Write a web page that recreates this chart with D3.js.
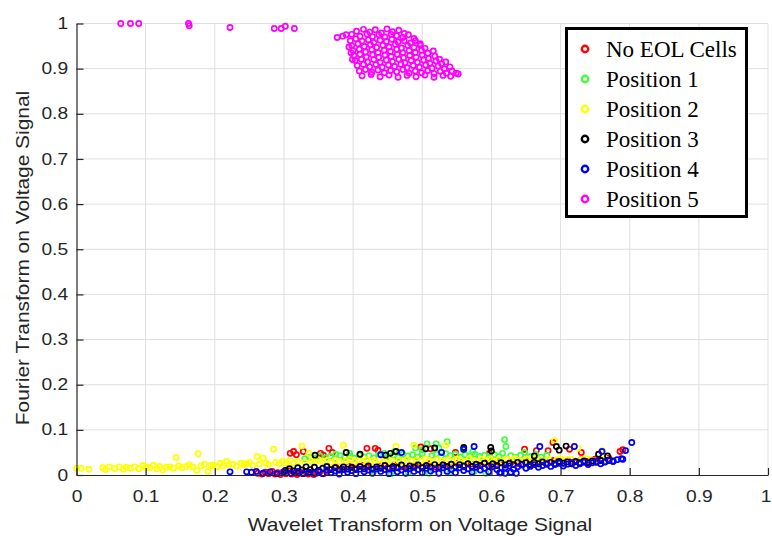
<!DOCTYPE html>
<html>
<head>
<meta charset="utf-8">
<script src="https://cdn.jsdelivr.net/npm/d3@7"></script>
<style>
  body { margin: 0; background: #fff; }
  svg { display: block; }
</style>
</head>
<body>
<div id="chart"></div>
<script>
const seriesNames = ['No EOL Cells', 'Position 1', 'Position 2', 'Position 3', 'Position 4', 'Position 5'];
const seriesColors = ['#ff0000', '#40ff40', '#ffff00', '#000000', '#0000ff', '#ff00ff'];
const xTicks = [0, 0.1, 0.2, 0.3, 0.4, 0.5, 0.6, 0.7, 0.8, 0.9, 1];
const yTicks = [0, 0.1, 0.2, 0.3, 0.4, 0.5, 0.6, 0.7, 0.8, 0.9, 1];

const noEolCells = [
  [0.262,0.004],[0.268,0.002],[0.273,0.006],[0.278,0.003],[0.283,0.008],[0.287,0.002],[0.291,0.005],[0.295,0.001],
  [0.299,0.007],[0.303,0.003],[0.307,0.009],[0.311,0.002],[0.315,0.005],[0.319,0.001],[0.323,0.006],[0.327,0.003],
  [0.331,0.008],[0.335,0.002],[0.339,0.005],[0.343,0.001],[0.347,0.004],[0.352,0.007],[0.357,0.003],[0.362,0.006],
  [0.366,0.012],[0.375,0.018],[0.384,0.014],[0.393,0.02],[0.402,0.015],[0.411,0.022],[0.42,0.017],[0.43,0.013],
  [0.44,0.021],[0.45,0.016],[0.46,0.023],[0.47,0.018],[0.48,0.014],[0.49,0.022],[0.5,0.019],[0.51,0.025],
  [0.52,0.017],[0.53,0.023],[0.54,0.02],[0.55,0.026],[0.56,0.018],[0.57,0.024],[0.58,0.021],[0.59,0.027],
  [0.6,0.022],[0.61,0.028],[0.62,0.024],[0.63,0.03],[0.64,0.025],[0.65,0.029],[0.66,0.026],[0.67,0.031],
  [0.68,0.027],[0.69,0.032],[0.7,0.028],[0.71,0.033],[0.72,0.029],[0.73,0.034],[0.74,0.03],[0.75,0.035],
  [0.76,0.032],[0.77,0.037],
  [0.309,0.048],[0.314,0.052],[0.318,0.045],[0.328,0.052],[0.353,0.048],[0.357,0.044],[0.365,0.059],[0.37,0.05],
  [0.42,0.059],[0.432,0.059],[0.436,0.055],[0.498,0.062],[0.512,0.058],[0.548,0.05],[0.597,0.048],[0.648,0.057],
  [0.665,0.054],[0.682,0.054],[0.689,0.072],[0.713,0.057],[0.73,0.05],[0.786,0.052],[0.79,0.056]
];

const position1 = [
  [0.33,0.036],[0.338,0.04],[0.345,0.037],[0.352,0.042],[0.36,0.038],[0.367,0.041],[0.374,0.036],[0.381,0.043],
  [0.388,0.039],[0.395,0.042],[0.402,0.037],[0.409,0.044],[0.416,0.04],[0.423,0.043],[0.43,0.038],[0.437,0.045],
  [0.445,0.048],[0.451,0.041],[0.458,0.044],[0.465,0.039],[0.472,0.046],[0.479,0.042],[0.486,0.045],[0.493,0.04],
  [0.5,0.047],[0.507,0.069],[0.514,0.043],[0.52,0.046],[0.527,0.041],[0.534,0.047],[0.536,0.074],[0.541,0.043],
  [0.548,0.046],[0.555,0.04],[0.562,0.045],[0.569,0.042],[0.576,0.046],[0.583,0.041],[0.59,0.044],[0.597,0.04],
  [0.604,0.045],[0.611,0.041],[0.616,0.048],[0.619,0.078],[0.621,0.063],[0.628,0.043],[0.635,0.039],[0.642,0.044],
  [0.648,0.05],[0.656,0.041],[0.664,0.045],[0.672,0.04],[0.68,0.044],
  [0.375,0.046],[0.395,0.048],[0.46,0.052],[0.49,0.06],[0.5,0.056],[0.52,0.069],[0.524,0.06],[0.56,0.055],
  [0.573,0.052],[0.592,0.004],[0.575,0.008],[0.54,0.006],[0.48,0.005],[0.43,0.008],[0.455,0.003],[0.51,0.004]
];

const position2 = [
  [0.0,0.015],[0.007,0.015],[0.018,0.013],[0.038,0.016],[0.042,0.012],[0.048,0.018],[0.055,0.014],[0.062,0.018],
  [0.068,0.013],[0.072,0.017],[0.078,0.015],[0.084,0.018],[0.09,0.014],[0.096,0.021],[0.1,0.017],[0.106,0.016],
  [0.111,0.021],[0.116,0.014],[0.12,0.019],[0.125,0.011],[0.13,0.017],[0.135,0.018],[0.14,0.015],[0.144,0.039],
  [0.148,0.02],[0.152,0.016],[0.159,0.019],[0.163,0.022],[0.168,0.018],[0.174,0.01],[0.176,0.047],[0.18,0.02],
  [0.185,0.024],[0.19,0.008],[0.194,0.021],[0.198,0.022],[0.203,0.018],[0.208,0.026],[0.212,0.02],[0.217,0.03],
  [0.22,0.022],[0.226,0.024],[0.232,0.02],[0.238,0.026],[0.242,0.022],[0.246,0.025],[0.25,0.028],[0.255,0.021],
  [0.261,0.041],[0.264,0.024],[0.27,0.037],[0.274,0.027],[0.278,0.023],[0.285,0.057],[0.288,0.028],[0.293,0.025],
  [0.298,0.03],[0.303,0.026],[0.308,0.031],[0.314,0.027],[0.32,0.03],[0.326,0.064],[0.33,0.028],[0.336,0.048],
  [0.34,0.031],[0.345,0.029],[0.35,0.033],[0.356,0.03],[0.362,0.032],[0.368,0.028],[0.374,0.033],[0.38,0.03],
  [0.386,0.066],[0.39,0.031],[0.396,0.034],[0.402,0.029],[0.408,0.032],[0.414,0.03],[0.42,0.034],[0.426,0.031],
  [0.432,0.029],[0.438,0.033],[0.444,0.03],[0.45,0.034],[0.456,0.031],[0.462,0.063],[0.466,0.032],[0.472,0.029],
  [0.478,0.034],[0.484,0.031],[0.488,0.066],[0.492,0.033],[0.498,0.03],[0.504,0.035],[0.51,0.032],[0.516,0.029],
  [0.522,0.034],[0.528,0.031],[0.534,0.066],[0.538,0.034],[0.544,0.03],[0.55,0.035],[0.556,0.032],[0.562,0.03],
  [0.568,0.036],[0.574,0.033],[0.58,0.03],[0.586,0.035],[0.592,0.032],[0.598,0.036],[0.604,0.031],[0.61,0.034],
  [0.616,0.03],[0.622,0.035],[0.628,0.032],[0.634,0.036],[0.64,0.033],[0.646,0.031],[0.652,0.035],[0.658,0.032],
  [0.664,0.036],[0.67,0.033],[0.676,0.03],[0.682,0.035],[0.691,0.076],[0.695,0.034],[0.7,0.036],[0.708,0.033],
  [0.715,0.035],[0.725,0.059],[0.73,0.034],[0.738,0.036],[0.745,0.033],[0.76,0.054],[0.765,0.035]
];

const position3 = [
  [0.302,0.01],[0.308,0.014],[0.314,0.009],[0.32,0.016],[0.326,0.011],[0.332,0.018],[0.338,0.012],[0.344,0.017],
  [0.35,0.01],[0.356,0.015],[0.362,0.019],[0.368,0.012],[0.374,0.016],[0.38,0.011],[0.386,0.018],[0.392,0.013],
  [0.398,0.017],[0.404,0.012],[0.41,0.019],[0.416,0.014],[0.422,0.02],[0.428,0.013],[0.434,0.018],[0.44,0.015],
  [0.446,0.021],[0.452,0.014],[0.458,0.019],[0.464,0.016],[0.47,0.022],[0.476,0.015],[0.482,0.02],[0.488,0.017],
  [0.494,0.022],[0.5,0.016],[0.506,0.021],[0.512,0.018],[0.518,0.023],[0.524,0.017],[0.53,0.022],[0.536,0.019],
  [0.542,0.024],[0.548,0.018],[0.554,0.023],[0.56,0.02],[0.566,0.025],[0.572,0.019],[0.578,0.024],[0.584,0.021],
  [0.59,0.026],[0.596,0.02],[0.602,0.025],[0.608,0.021],[0.614,0.027],[0.62,0.022],[0.626,0.026],[0.632,0.023],
  [0.638,0.028],[0.644,0.024],[0.65,0.027],[0.656,0.023],[0.662,0.028],[0.668,0.025],[0.674,0.029],[0.68,0.024],
  [0.686,0.028],[0.692,0.025],[0.698,0.03],[0.704,0.026],[0.71,0.029],[0.716,0.025],[0.722,0.03],[0.728,0.027],
  [0.734,0.031],[0.74,0.027],[0.746,0.031],[0.752,0.028],[0.758,0.032],[0.764,0.029],[0.77,0.033],[0.776,0.031],
  [0.345,0.044],[0.39,0.05],[0.41,0.046],[0.447,0.044],[0.454,0.048],[0.462,0.052],[0.505,0.058],[0.518,0.06],
  [0.56,0.061],[0.599,0.061],[0.6,0.053],[0.662,0.042],[0.694,0.063],[0.698,0.055],[0.708,0.064],[0.755,0.046],
  [0.768,0.042]
];

const position4 = [
  [0.222,0.007],[0.246,0.007],[0.253,0.006],[0.26,0.008],[0.27,0.004],[0.28,0.007],[0.29,0.003],[0.3,0.006],
  [0.31,0.004],[0.32,0.008],[0.328,0.003],[0.336,0.006],[0.344,0.004],[0.35,0.008],[0.356,0.003],[0.362,0.011],
  [0.368,0.005],[0.374,0.009],[0.38,0.002],[0.386,0.012],[0.392,0.006],[0.398,0.01],[0.404,0.003],[0.41,0.013],
  [0.416,0.007],[0.422,0.011],[0.428,0.004],[0.434,0.014],[0.44,0.008],[0.446,0.012],[0.452,0.003],[0.458,0.015],
  [0.464,0.007],[0.47,0.011],[0.476,0.004],[0.482,0.014],[0.488,0.008],[0.494,0.012],[0.5,0.005],[0.506,0.015],
  [0.512,0.009],[0.518,0.013],[0.524,0.004],[0.53,0.016],[0.536,0.008],[0.542,0.012],[0.548,0.005],[0.554,0.016],
  [0.56,0.01],[0.566,0.014],[0.572,0.006],[0.578,0.017],[0.584,0.011],[0.59,0.015],[0.596,0.007],[0.602,0.018],
  [0.608,0.012],[0.614,0.005],[0.62,0.016],[0.626,0.02],[0.632,0.013],[0.638,0.018],[0.644,0.022],[0.65,0.015],
  [0.656,0.019],[0.662,0.023],[0.668,0.017],[0.674,0.021],[0.68,0.025],[0.686,0.019],[0.692,0.023],[0.698,0.026],
  [0.704,0.02],[0.71,0.024],[0.716,0.027],[0.722,0.021],[0.728,0.025],[0.734,0.028],[0.74,0.023],[0.746,0.027],
  [0.752,0.03],[0.758,0.025],[0.764,0.029],[0.77,0.032],[0.776,0.03],[0.782,0.034],[0.788,0.036],[0.79,0.035],
  [0.803,0.072],[0.794,0.054],[0.67,0.063],[0.72,0.063],[0.575,0.063],[0.56,0.057],[0.528,0.05],[0.612,0.005],
  [0.62,0.004],[0.628,0.006],[0.636,0.004],[0.47,0.05],[0.44,0.045],[0.76,0.052]
];

const position5 = [
  [0.064,1.0],[0.078,1.0],[0.09,1.0],[0.162,1.0],[0.163,0.995],[0.222,0.991],[0.286,0.989],[0.296,0.989],
  [0.302,0.994],[0.315,0.989],
  [0.377,0.969],[0.385,0.972],[0.39,0.975],[0.394,0.948],[0.397,0.935],[0.399,0.92],
  [0.405,0.983],[0.415,0.987],[0.424,0.981],[0.432,0.986],[0.441,0.979],[0.449,0.988],[0.457,0.982],[0.466,0.985],
  [0.474,0.978],
  [0.398,0.976],[0.41,0.972],[0.42,0.977],[0.428,0.971],[0.437,0.975],[0.446,0.97],[0.455,0.976],[0.463,0.973],
  [0.472,0.969],[0.48,0.975],[0.488,0.967],
  [0.396,0.962],[0.404,0.966],[0.413,0.961],[0.422,0.964],[0.43,0.958],[0.439,0.963],[0.448,0.96],[0.456,0.965],
  [0.465,0.959],[0.474,0.962],[0.483,0.957],[0.49,0.962],[0.497,0.955],
  [0.398,0.951],[0.407,0.955],[0.416,0.949],[0.425,0.953],[0.434,0.947],[0.443,0.952],[0.452,0.948],[0.461,0.954],
  [0.47,0.946],[0.479,0.951],[0.488,0.947],[0.497,0.952],[0.504,0.945],
  [0.4,0.94],[0.409,0.943],[0.418,0.937],[0.427,0.942],[0.436,0.936],[0.445,0.941],[0.454,0.938],[0.463,0.943],
  [0.472,0.935],[0.481,0.94],[0.49,0.936],[0.499,0.941],[0.508,0.934],[0.516,0.939],
  [0.401,0.929],[0.41,0.932],[0.419,0.926],[0.428,0.931],[0.437,0.925],[0.446,0.93],[0.455,0.927],[0.464,0.932],
  [0.473,0.924],[0.482,0.929],[0.491,0.925],[0.5,0.93],[0.509,0.923],[0.518,0.928],[0.525,0.921],
  [0.403,0.918],[0.412,0.921],[0.421,0.915],[0.43,0.92],[0.439,0.914],[0.448,0.919],[0.457,0.916],[0.466,0.921],
  [0.475,0.913],[0.484,0.918],[0.493,0.914],[0.502,0.919],[0.511,0.912],[0.52,0.917],[0.528,0.911],[0.534,0.915],
  [0.406,0.907],[0.415,0.91],[0.424,0.904],[0.433,0.909],[0.442,0.903],[0.451,0.908],[0.46,0.905],[0.469,0.91],
  [0.478,0.902],[0.487,0.907],[0.496,0.903],[0.505,0.908],[0.514,0.901],[0.523,0.906],[0.532,0.9],[0.54,0.904],
  [0.409,0.895],[0.418,0.898],[0.427,0.892],[0.436,0.897],[0.445,0.891],[0.454,0.896],[0.463,0.893],[0.472,0.898],
  [0.481,0.89],[0.49,0.895],[0.499,0.891],[0.508,0.896],[0.517,0.889],[0.526,0.894],[0.535,0.89],[0.543,0.895],
  [0.549,0.89],
  [0.413,0.884],[0.426,0.887],[0.439,0.882],[0.452,0.886],[0.465,0.881],[0.478,0.885],[0.491,0.882],[0.504,0.886],
  [0.517,0.881],[0.53,0.885],[0.541,0.883],[0.552,0.888]
];

const allSeries = [noEolCells, position1, position2, position3, position4, position5];

const width = 772, height = 536;
const plot = { left: 76.5, right: 768, top: 23.5, bottom: 475 };

const svg = d3.select('#chart').append('svg')
  .attr('width', width)
  .attr('height', height)
  .style('font-family', 'Arial, "Liberation Sans", sans-serif');

svg.append('rect').attr('width', width).attr('height', height).attr('fill', '#fff');

const x = d3.scaleLinear().domain([0, 1]).range([plot.left, plot.right]);
const y = d3.scaleLinear().domain([0, 1]).range([plot.bottom, plot.top]);

// grid
svg.append('g').selectAll('line').data(xTicks.slice(1)).enter().append('line')
  .attr('x1', d => x(d)).attr('x2', d => x(d))
  .attr('y1', plot.top).attr('y2', plot.bottom)
  .attr('stroke', '#dfdfdf').attr('stroke-width', 1);
svg.append('g').selectAll('line').data(yTicks.slice(1)).enter().append('line')
  .attr('x1', plot.left).attr('x2', plot.right)
  .attr('y1', d => y(d)).attr('y2', d => y(d))
  .attr('stroke', '#dfdfdf').attr('stroke-width', 1);

// points
allSeries.forEach((data, i) => {
  svg.append('g').selectAll('circle')
    .data(data)
    .enter().append('circle')
    .attr('cx', d => x(d[0]))
    .attr('cy', d => y(d[1]))
    .attr('r', 2.6)
    .attr('fill', 'none')
    .attr('stroke', seriesColors[i])
    .attr('stroke-width', 1.7);
});

// axes
const xAxis = svg.append('g')
  .attr('transform', `translate(0,${plot.bottom})`)
  .call(d3.axisBottom(x).tickValues(xTicks).tickFormat(d3.format('~g'))
    .tickSizeInner(-7).tickSizeOuter(0).tickPadding(16));
const yAxis = svg.append('g')
  .attr('transform', `translate(${plot.left},0)`)
  .call(d3.axisLeft(y).tickValues(yTicks).tickFormat(d3.format('~g'))
    .tickSizeInner(-7).tickSizeOuter(0).tickPadding(7));

[xAxis, yAxis].forEach(ax => {
  ax.select('.domain').attr('stroke', '#262626').attr('stroke-width', 1.2);
  ax.selectAll('.tick line').attr('stroke', '#262626').attr('stroke-width', 1.2);
  ax.selectAll('.tick text')
    .attr('fill', '#262626')
    .style('font-size', '16px')
    .attr('transform', 'scale(1.2,1)');
});
xAxis.selectAll('.tick text').filter(d => d === 1).attr('dx', -2);

svg.append('text')
  .attr('transform', 'translate(420,531) scale(1.2,1)')
  .attr('text-anchor', 'middle')
  .attr('fill', '#262626')
  .style('font-size', '17.5px')
  .text('Wavelet Transform on Voltage Signal');

svg.append('text')
  .attr('transform', 'translate(29,258) rotate(-90) scale(1.13,1)')
  .attr('text-anchor', 'middle')
  .attr('fill', '#262626')
  .style('font-size', '18.5px')
  .text('Fourier Transform on Voltage Signal');

// legend
const legend = svg.append('g');
legend.append('rect')
  .attr('x', 566.5).attr('y', 28.5)
  .attr('width', 180).attr('height', 188)
  .attr('fill', '#fff')
  .attr('stroke', '#000')
  .attr('stroke-width', 3);

const items = legend.selectAll('.item')
  .data(seriesNames)
  .enter().append('g')
  .attr('class', 'item')
  .attr('transform', (d, i) => `translate(585,${49 + i * 30})`);

items.append('circle')
  .attr('r', 3.2)
  .attr('fill', 'none')
  .attr('stroke', (d, i) => seriesColors[i])
  .attr('stroke-width', 2.4);

items.append('text')
  .attr('x', 21)
  .attr('y', 7.5)
  .attr('fill', '#000')
  .style('font-family', '"Liberation Serif", "Times New Roman", serif')
  .style('font-size', '23px')
  .text(d => d);
</script>
</body>
</html>
